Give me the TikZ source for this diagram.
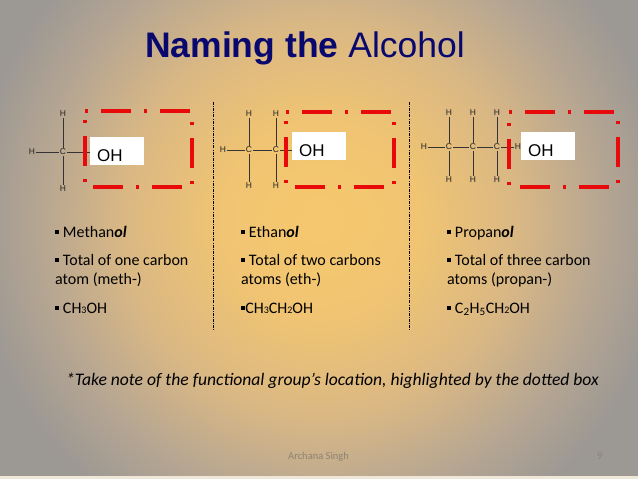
\documentclass[tikz,border=0pt]{standalone}
\usepackage{fontspec}
\setmainfont{Carlito}
\newfontfamily\arialfont{Liberation Sans}
\usetikzlibrary{positioning,calc}

\definecolor{titleblue}{RGB}{8,8,110}
\definecolor{boxred}{RGB}{232,10,10}
\definecolor{glowA}{RGB}{246,200,110}
\definecolor{glowB}{RGB}{240,196,114}
\definecolor{glowC}{RGB}{218,184,132}
\definecolor{glowD}{RGB}{182,166,146}
\definecolor{glowE}{RGB}{156,152,148}
\definecolor{footgrey}{RGB}{140,130,115}
\definecolor{stripcol}{RGB}{238,230,214}

\pgfdeclareradialshading{slideglow}{\pgfpoint{0bp}{0bp}}{color(0bp)=(glowA); color(7bp)=(glowB); color(14bp)=(glowC); color(20bp)=(glowD); color(25bp)=(glowE); color(50bp)=(glowE)}

\newcommand{\sqbul}{\rule[0.2em]{0.26em}{0.26em}}
\newcommand{\lowdig}[1]{{\fontsize{10}{10}\selectfont #1}}

\tikzset{
    atom/.style={font=\arialfont\fontsize{8.5}{10}\selectfont, inner sep=0.8pt, text=black!85},
    bond/.style={line width=0.8pt, black!80},
    ohbox/.style={fill=white, anchor=north west, font=\arialfont\fontsize{17}{20}\selectfont,
        inner xsep=7pt, inner ysep=0pt, text width=40pt, text height=24pt, text depth=4pt},
    groupbox/.style={draw=boxred, line width=4pt, dash pattern=on 3pt off 13pt on 30pt off 13pt},
    item/.style={anchor=base west, inner sep=0pt, font=\fontsize{16}{19}\selectfont, align=left},
    divider/.style={line width=0.6pt, dash pattern=on 3pt off 1.2pt on 0.8pt off 1.2pt}
}

\begin{document}
\begin{tikzpicture}[x=1pt,y=-1pt]

                % Slide background.
                \useasboundingbox (0,0) rectangle (638,479);
                \begin{scope}
                    \clip (0,0) rectangle (638,479);
                    \shade[shading=slideglow] (-30,-130) rectangle (670,570);
                    \fill[stripcol] (0,476) rectangle (638,479);
                \end{scope}

                % Title.
                \node[anchor=base west, inner sep=0pt, text=titleblue,
                    font=\arialfont\fontsize{35.5}{40}\selectfont] (title) at (145,57)
                    {\textbf{Naming the} Alcohol};

                % Column dividers.
                \draw[divider] (213,102) -- (213,330);
                \draw[divider] (409,102) -- (409,330);

                % Methanol.
                \node[atom] (cA1) at (63,152) {C};
                \node[atom] (hA1) at (63,114) {H};
                \node[atom] (hA2) at (63,189) {H};
                \node[atom] (hA3) at (32,152) {H};
                \coordinate (oA) at (94,152);
                \draw[bond] (hA1) -- (cA1);
                \draw[bond] (cA1) -- (hA2);
                \draw[bond] (hA3) -- (cA1);
                \draw[bond] (cA1) -- (oA);
                \draw[groupbox] (85,111) -- (192,111) -- (192,187) -- (85,187) -- cycle;
                \node[ohbox] (ohA) at (90,137) {OH};

                % Ethanol.
                \node[atom] (cB1) at (249,150) {C};
                \node[atom] (cB2) at (276,150) {C};
                \node[atom] (hB1) at (223,150) {H};
                \node[atom] (hB2) at (249,114) {H};
                \node[atom] (hB3) at (249,186) {H};
                \node[atom] (hB4) at (276,114) {H};
                \node[atom] (hB5) at (276,186) {H};
                \coordinate (oB) at (296,150);
                \draw[bond] (hB1) -- (cB1);
                \draw[bond] (cB1) -- (cB2);
                \draw[bond] (hB2) -- (cB1) -- (hB3);
                \draw[bond] (hB4) -- (cB2) -- (hB5);
                \draw[bond] (cB2) -- (oB);
                \draw[groupbox] (286,112) -- (394,112) -- (394,187) -- (286,187) -- cycle;
                \node[ohbox] (ohB) at (292,132) {OH};

                % Propanol.
                \node[atom] (cC1) at (449,147) {C};
                \node[atom] (cC2) at (473,147) {C};
                \node[atom] (cC3) at (497,147) {C};
                \node[atom] (hC1) at (424,147) {H};
                \node[atom] (hC8) at (518,147) {H};
                \draw[bond] (hC1) -- (cC1) -- (cC2) -- (cC3) -- (hC8);
                \foreach \c [count=\i] in {cC1,cC2,cC3} {
                    \node[atom] (top\i) at ($(\c)+(0,-34)$) {H};
                    \node[atom] (bot\i) at ($(\c)+(0,33)$) {H};
                    \draw[bond] (top\i) -- (\c) -- (bot\i);
                }
                \draw[groupbox] (509,112) -- (618,112) -- (618,187) -- (509,187) -- cycle;
                \node[ohbox] (ohC) at (521,132) {OH};

                % Bullet text (base of a two-line node is its last line).
                \node[item] (nameA) at (55,237) {\sqbul\ Methan\textbf{\textit{ol}}};
                \node[item] (countA) at (55,284) {\sqbul\ Total of one carbon\\atom (meth-)};
                \node[item] (formA) at (55,313) {\sqbul\ CH\lowdig{3}OH};

                \node[item] (nameB) at (241,237) {\sqbul\ Ethan\textbf{\textit{ol}}};
                \node[item] (countB) at (241,284) {\sqbul\ Total of two carbons\\atoms (eth-)};
                \node[item] (formB) at (241,313) {\sqbul CH\lowdig{3}CH\lowdig{2}OH};

                \node[item] (nameC) at (447,237) {\sqbul\ Propan\textbf{\textit{ol}}};
                \node[item] (countC) at (447,284) {\sqbul\ Total of three carbon\\atoms (propan-)};
                \node[item] (formC) at (447,313) {\sqbul\ C\textsubscript{2}H\textsubscript{5}CH\lowdig{2}OH};

                % Note and footer.
                \node[anchor=base west, inner sep=0pt, font=\itshape\fontsize{17.6}{20}\selectfont] (note) at (66,385)
                    {*Take note of the functional group’s location, highlighted by the dotted box};
                \node[anchor=base west, inner sep=0pt, text=footgrey, font=\fontsize{10.5}{12}\selectfont] (author) at (288,459) {Archana Singh};
                \node[anchor=base west, inner sep=0pt, text=footgrey, font=\fontsize{10.5}{12}\selectfont] (page) at (597,459) {9};
\end{tikzpicture}
\end{document}
